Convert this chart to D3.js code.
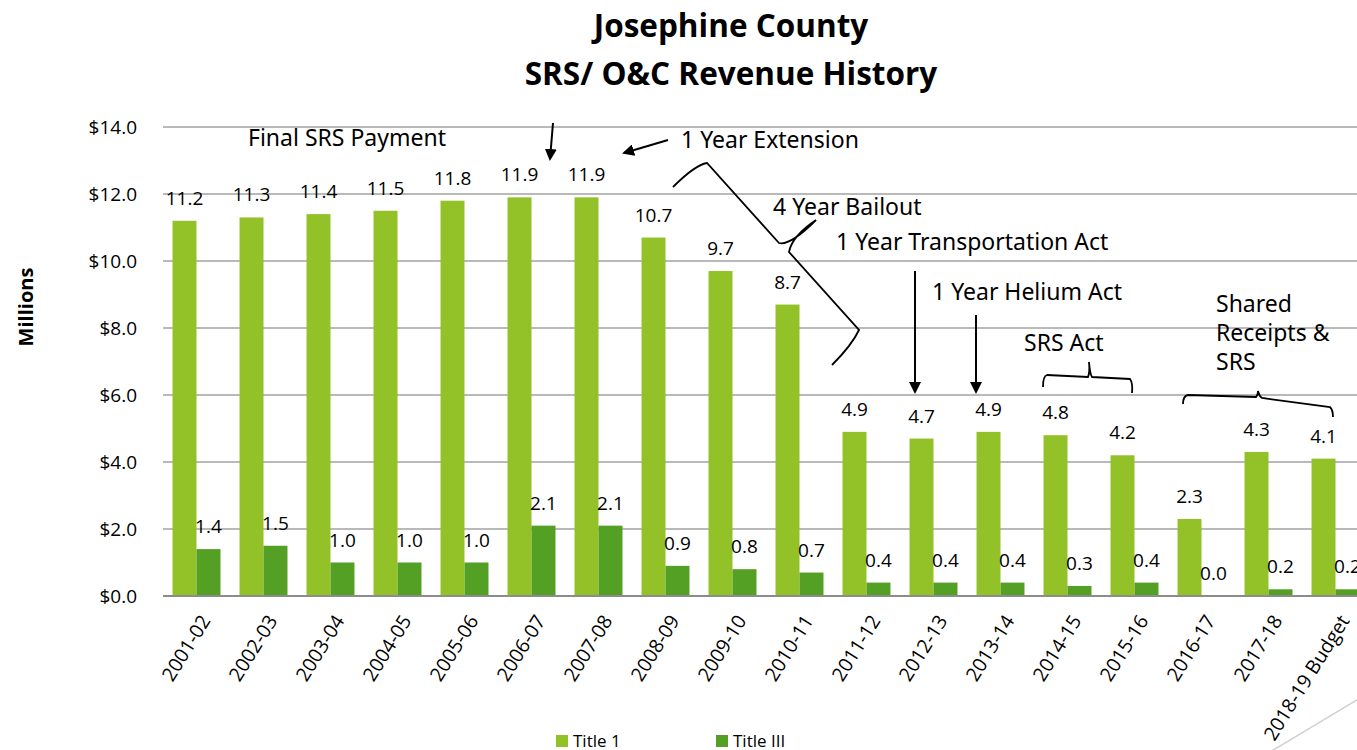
<!DOCTYPE html>
<html>
<head>
<meta charset="utf-8">
<script src="https://cdn.jsdelivr.net/npm/d3@7"></script>
<style>
  body { margin: 0; background: #fff; }
  text { fill: #000; }
</style>
</head>
<body>
<div id="container"></div>
<script>
// fiscal years
const years = ["2001-02", "2002-03", "2003-04", "2004-05", "2005-06", "2006-07", "2007-08",
  "2008-09", "2009-10", "2010-11", "2011-12", "2012-13", "2013-14", "2014-15", "2015-16",
  "2016-17", "2017-18", "2018-19 Budget"];
// millions of dollars
const title1 = [11.2, 11.3, 11.4, 11.5, 11.8, 11.9, 11.9, 10.7, 9.7, 8.7, 4.9, 4.7, 4.9, 4.8, 4.2, 2.3, 4.3, 4.1];
const title3 = [1.4, 1.5, 1.0, 1.0, 1.0, 2.1, 2.1, 0.9, 0.8, 0.7, 0.4, 0.4, 0.4, 0.3, 0.4, 0.0, 0.2, 0.2];
const series = ["Title 1", "Title III"];
const yTicks = [0, 2, 4, 6, 8, 10, 12, 14];

const colors = {"Title 1": "#92c128", "Title III": "#54a024"};
const labelFont = "'Open Sans', sans-serif";
const noteFont = "'Noto Sans', sans-serif";

let svg = d3.select("#container")
  .append("svg")
  .attr("width", 1357)
  .attr("height", 750);

let x = d3.scaleBand().domain(years).range([163, 1369]).paddingInner(0.284).paddingOuter(0.142);
let xs = d3.scaleBand().domain(series).range([0, x.bandwidth()]);
let y = d3.scaleLinear().domain([0, 14]).range([596, 127]);

// title
svg.append("text").text("Josephine County")
  .attr("x", 731).attr("y", 37).attr("text-anchor", "middle")
  .style("font-family", labelFont).style("font-weight", "bold").style("font-size", "31.5px");
svg.append("text").text("SRS/ O&C Revenue History")
  .attr("x", 731).attr("y", 85).attr("text-anchor", "middle")
  .style("font-family", labelFont).style("font-weight", "bold").style("font-size", "31.5px");

// gridlines
svg.append("g").selectAll("line").data(yTicks.slice(1)).enter().append("line")
  .attr("x1", 163).attr("x2", 1369)
  .attr("y1", d => y(d)).attr("y2", d => y(d))
  .attr("stroke", "#a2a2a2").attr("stroke-width", 1.5);

// y axis labels
let yAxis = svg.append("g").attr("transform", "translate(145,0)")
  .call(d3.axisLeft(y).tickValues(yTicks).tickSize(0).tickPadding(8).tickFormat(d => "$" + d3.format(".1f")(d)));
yAxis.select(".domain").remove();
yAxis.selectAll("text").style("font-family", labelFont).style("font-size", "19px").attr("fill", "#000");

svg.append("text").text("Millions")
  .attr("transform", "translate(33,307) rotate(-90)")
  .attr("text-anchor", "middle")
  .style("font-family", labelFont).style("font-weight", "bold").style("font-size", "20px");

// bars
let rows = years.map((yr, i) => ({year: yr, vals: [
  {s: "Title 1", v: title1[i]}, {s: "Title III", v: title3[i]}]}));

let groups = svg.append("g").selectAll("g").data(rows).enter().append("g")
  .attr("transform", d => "translate(" + x(d.year) + ",0)");

groups.selectAll("rect").data(d => d.vals).enter().append("rect")
  .attr("x", d => xs(d.s))
  .attr("width", xs.bandwidth())
  .attr("y", d => y(d.v))
  .attr("height", d => y(0) - y(d.v))
  .attr("fill", d => colors[d.s]);

groups.selectAll("text").data(d => d.vals).enter().append("text")
  .text(d => d3.format(".1f")(d.v))
  .attr("x", d => xs(d.s) + xs.bandwidth() / 2)
  .attr("y", d => y(d.v) - 16)
  .attr("text-anchor", "middle")
  .style("font-family", labelFont).style("font-size", "19px");

// x axis
svg.append("line").attr("x1", 163).attr("x2", 1369).attr("y1", y(0)).attr("y2", y(0))
  .attr("stroke", "#8c8c8c").attr("stroke-width", 2);

svg.append("g").selectAll("text").data(years).enter().append("text")
  .text(d => d)
  .attr("text-anchor", "end")
  .attr("transform", d => "translate(" + (x(d) + x.bandwidth() / 2 + 9) + ",617) rotate(-58)")
  .attr("dy", "0.35em")
  .style("font-family", labelFont).style("font-size", "19.5px");

// legend
let legend = svg.append("g").selectAll("g").data(series).enter().append("g")
  .attr("transform", (d, i) => "translate(" + (556 + i * 160) + ",735)");
legend.append("rect").attr("width", 12).attr("height", 12).attr("fill", d => colors[d]);
legend.append("text").text(d => d).attr("x", 17).attr("y", 12)
  .style("font-family", labelFont).style("font-size", "17px").attr("fill", "#222");

// annotations
svg.append("defs").append("marker")
  .attr("id", "arrow")
  .attr("viewBox", "0 0 12 12")
  .attr("refX", 10).attr("refY", 6)
  .attr("markerWidth", 6).attr("markerHeight", 6)
  .attr("orient", "auto")
  .append("path")
  .attr("d", "M0,0 L12,6 L0,12 Z")
  .attr("fill", "#000");

function note(t, x0, y0) {
  svg.append("text").text(t).attr("x", x0).attr("y", y0)
    .style("font-family", noteFont).style("font-size", "23px");
}
note("Final SRS Payment", 248, 146);
note("1 Year Extension", 681, 148);
note("4 Year Bailout", 773, 215);
note("1 Year Transportation Act", 836, 250);
note("1 Year Helium Act", 932, 300);
note("SRS Act", 1024, 351);
note("Shared", 1216, 312);
note("Receipts &", 1216, 341);
note("SRS", 1216, 370);

function arrow(x1, y1, x2, y2) {
  svg.append("line").attr("x1", x1).attr("y1", y1).attr("x2", x2).attr("y2", y2)
    .attr("stroke", "#000").attr("stroke-width", 2)
    .attr("marker-end", "url(#arrow)");
}
arrow(553, 123, 550, 159);
arrow(668, 140, 624, 153);
arrow(915, 271, 915, 392);
arrow(976, 315, 976, 392);

function brace(d) {
  svg.append("path").attr("d", d).attr("fill", "none")
    .attr("stroke", "#000").attr("stroke-width", 1.8);
}
brace("M673,187 Q695,165 707,163 L779,243 Q790,246 816,220 Q792,236 789,252 L859,330 Q852,345 832,365");
brace("M1043,387 Q1043,376 1047,375 L1088,377 Q1090,372 1089,362 Q1090,374 1092,377 L1130,379 Q1133,383 1132,393");
brace("M1183,404 Q1183,396 1188,395 L1256,397 Q1258,395 1258,391 Q1259,396 1262,398 L1330,407 Q1333,410 1333,417");

// slide corner
svg.append("line").attr("x1", 1270).attr("y1", 752).attr("x2", 1357).attr("y2", 700)
  .attr("stroke", "#d0d0d0").attr("stroke-width", 1.5);
</script>
</body>
</html>
